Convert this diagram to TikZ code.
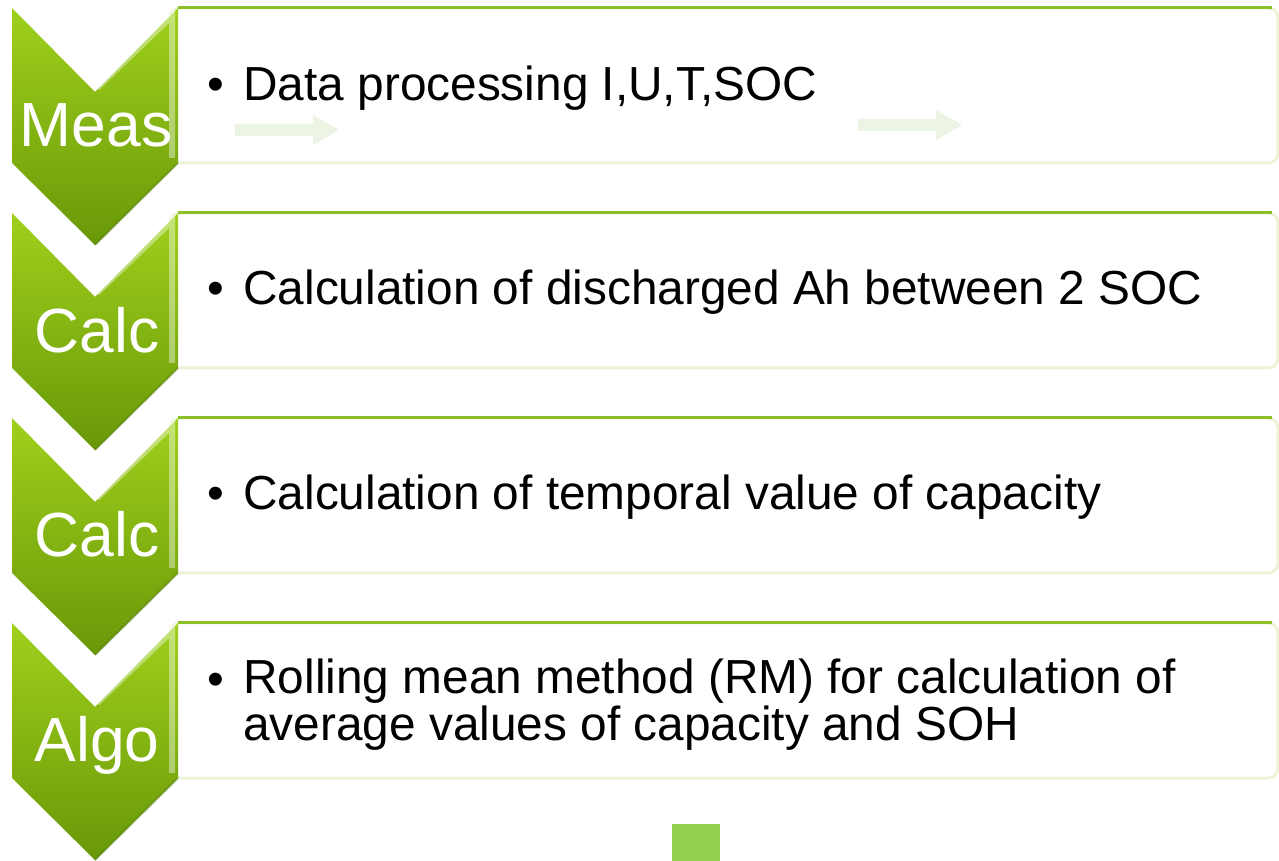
\documentclass[tikz,border=0pt]{standalone}
\usepackage{fontspec}
\setmainfont{Liberation Sans}
\usetikzlibrary{calc}
\definecolor{chevtop}{RGB}{160,208,28}
\definecolor{chevbot}{RGB}{104,152,8}
\definecolor{boxline}{RGB}{140,192,40}
\definecolor{boxfade}{RGB}{236,244,214}
\definecolor{ghost}{RGB}{236,245,228}
\definecolor{sqgreen}{RGB}{146,208,80}
\def\chevron(#1){%
  \shade[top color=chevtop, bottom color=chevbot] (12,#1) -- (95,#1+84) -- (178,#1) -- (178,#1+155) -- (95,#1+237) -- (12,#1+155) -- cycle;
  \draw[white, opacity=0.4, line width=1.2mm] (97,#1+80) -- (172,#1+8) -- (172,#1+150);
  \draw[chevbot!80!black, opacity=0.5, line width=0.4mm] (178,#1+155) -- (95,#1+237);}
\def\stepbox(#1){%
  \draw[boxfade, line width=0.6mm, fill=white, rounded corners=2mm] (170,#1) rectangle (1278,#1+155);
  \draw[boxline, line width=0.6mm] (178,#1) -- (1272,#1);}
\def\ghostarrow(#1,#2){%
  \fill[ghost] (#1,#2-6) -- (#1+78,#2-6) -- (#1+78,#2-15) -- (#1+104,#2) -- (#1+78,#2+15) -- (#1+78,#2+6) -- (#1,#2+6) -- cycle;}

\begin{document}
\begin{tikzpicture}[x=0.02cm, y=-0.02cm,
    item/.style={anchor=base west, inner sep=0pt, font=\fontsize{27.2}{23}\selectfont, align=left},
    dot/.style={anchor=base west, inner sep=0pt, font=\fontsize{27.2}{23}\selectfont},
    tag/.style={anchor=base, inner sep=0pt, text=white, font=\fontsize{35.5}{35.5}\selectfont}]
		%%%%% START %%%%%
		\useasboundingbox[fill=white] (0,0) rectangle (1279,861);
		
		\stepbox(8)
		\stepbox(213)
		\stepbox(418)
		\stepbox(623)
		
		\ghostarrow(235,130)
		\ghostarrow(858,125)
		
		\chevron(8)
		\chevron(213)
		\chevron(418)
		\chevron(623)
		
		\node[tag] (meas) at (96,147) {Meas};
		\node[tag] (calcA) at (97,353) {Calc};
		\node[tag] (calcB) at (97,557) {Calc};
		\node[tag] (algo) at (97,761) {Algo};
		
		\node[dot] (d1) at (207,101) {•};
		\node[item] (t1) at (243,101) {Data processing I,U,T,SOC};
		\node[dot] (d2) at (207,305) {•};
		\node[item] (t2) at (243,305) {Calculation of discharged Ah between 2 SOC};
		\node[dot] (d3) at (207,510) {•};
		\node[item] (t3) at (243,510) {Calculation of temporal value of capacity};
		\node[dot] (d4) at (207,695) {•};
		\node[item] (t4) at (243,740) {Rolling mean method (RM) for calculation of\\average values of capacity and SOH};
		
		\fill[sqgreen] (672,824) rectangle (720,861);
		%%%%% END %%%%%
	\end{tikzpicture}
\end{document}
